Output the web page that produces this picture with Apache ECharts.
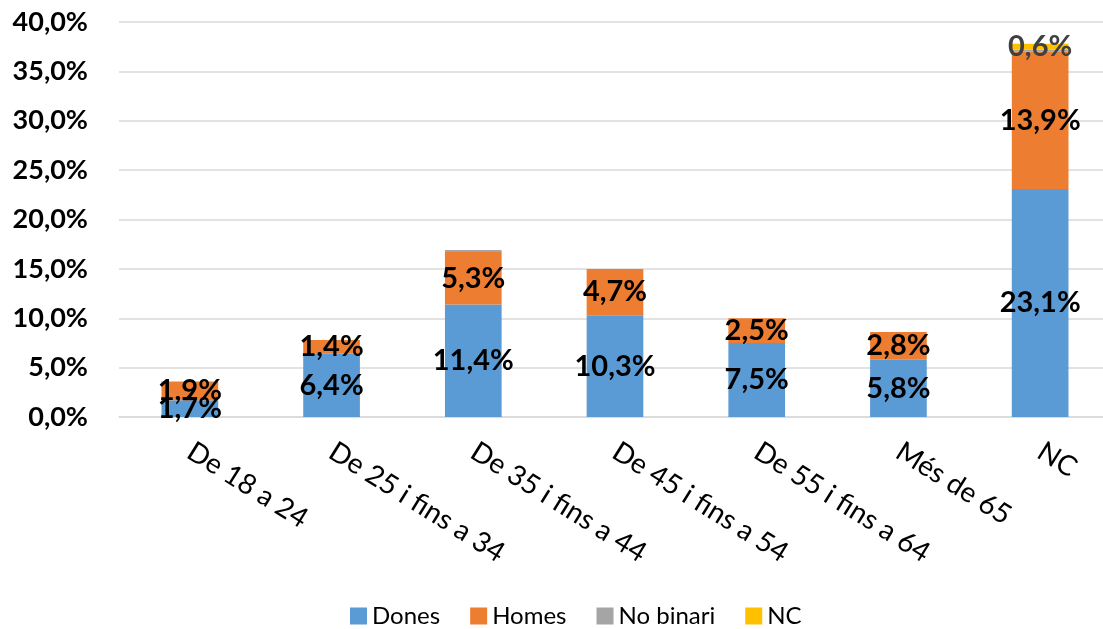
<!DOCTYPE html>
<html>
<head>
<meta charset="utf-8">
<script src="https://cdn.jsdelivr.net/npm/echarts@6/dist/echarts.min.js"></script>
<style>html,body{margin:0;padding:0;background:#fff;overflow:hidden}#c{width:1140px;height:629px}</style>
</head>
<body>
<div id="c"></div>
<script>
const categories = ["De 18 a 24", "De 25 i fins a 34", "De 35 i fins a 44", "De 45 i fins a 54", "De 55 i fins a 64", "Més de 65", "NC"];
const dones = [1.7, 6.4, 11.4, 10.3, 7.5, 5.8, 23.1];
const homes = [1.9, 1.4, 5.3, 4.7, 2.5, 2.8, 13.9];
const noBinari = [0, 0, 0.2, 0, 0, 0, 0.2];
const nc = [0, 0, 0, 0, 0, 0, 0.6];
const yTicks = [0, 5, 10, 15, 20, 25, 30, 35, 40];

const fmt = v => v.toFixed(1).replace('.', ',') + '%';
const FONT = 'Lato, "Noto Sans", sans-serif';

function mk(name, data, color, showLabel, labelColor) {
  return {
    name, type: 'bar', stack: 'a', data, barWidth: '40%',
    itemStyle: { color },
    label: {
      show: showLabel, position: 'inside', color: labelColor,
      fontFamily: FONT, fontWeight: 'bold', fontSize: 29,
      formatter: p => p.value > 0 ? fmt(p.value) : ''
    }
  };
}

const chart = echarts.init(document.getElementById('c'));
chart.setOption({
  animation: false,
  grid: { left: 119, top: 22, width: 992, height: 395, containLabel: false },
  legend: {
    top: 599, left: 345, itemWidth: 17, itemHeight: 17, itemGap: 30,
    icon: 'rect',
    textStyle: { fontFamily: FONT, fontSize: 24, color: '#000' },
    data: ['Dones', 'Homes', 'No binari', 'NC']
  },
  xAxis: {
    type: 'category', data: categories,
    axisLine: { lineStyle: { color: '#d9d9d9', width: 1.5 } },
    axisTick: { show: false },
    axisLabel: {
      rotate: -32, interval: 0, margin: 32,
      fontFamily: FONT, fontSize: 28, color: '#000'
    }
  },
  yAxis: {
    type: 'value', min: yTicks[0], max: yTicks[yTicks.length - 1], interval: 5,
    axisLine: { show: false }, axisTick: { show: false },
    splitLine: { lineStyle: { color: '#d9d9d9', width: 1.5 } },
    axisLabel: {
      margin: 31, fontFamily: FONT, fontWeight: 'bold', fontSize: 27, color: '#000',
      formatter: v => fmt(v)
    }
  },
  series: [
    mk('Dones', dones, '#5B9BD5', true, '#000'),
    mk('Homes', homes, '#ED7D31', true, '#000'),
    mk('No binari', noBinari, '#A5A5A5', false, '#404040'),
    mk('NC', nc, '#FFC000', true, '#404040')
  ]
});
</script>
</body>
</html>
